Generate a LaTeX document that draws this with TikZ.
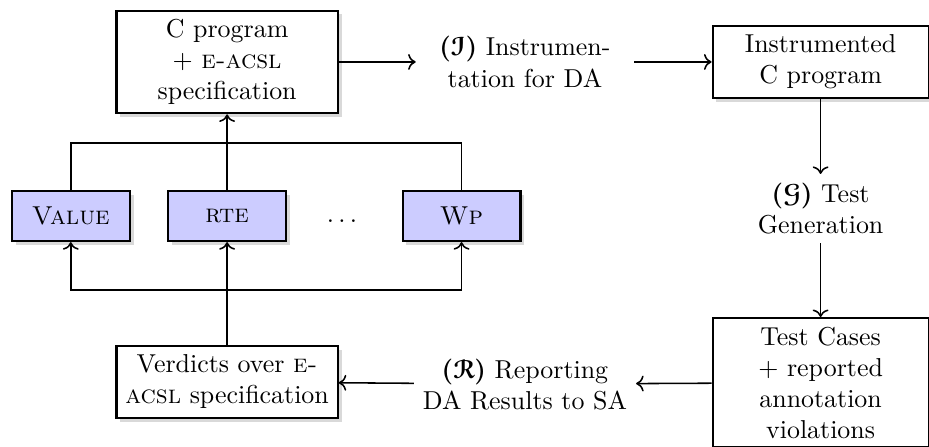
\documentclass[tikz,border=0pt]{standalone}
\usepackage{amsmath, amssymb}
\usepackage[mathscr]{eucal}
\usepackage{tikz}
\usetikzlibrary{shadows, arrows.meta, positioning}

\begin{document}
\begin{tikzpicture}
\tikzstyle{block} = [rectangle, draw=black, thick, fill=white, align=center, minimum width=3cm, drop shadow={opacity=0.3, shadow xshift=1.5pt, shadow yshift=-1.5pt}]
\tikzstyle{plugin} = [rectangle, draw=black, thick, fill=blue!20, minimum width=1.6cm, minimum height=0.68cm, drop shadow={opacity=0.3, shadow xshift=1.5pt, shadow yshift=-1.5pt}]
\tikzstyle{phase} = [rectangle, align=center, minimum width=2.95cm, minimum height=0.9cm]
\useasboundingbox (0,0) rectangle (12.6,6.05);

\node[block, minimum height=1.33cm] (cprog) at (3.08,5.21) {C program\\+ \textsc{e-acsl}\\specification};
\node[phase] (instrument) at (7.12,5.21) {{\boldmath$(\mathscr{I})$} Instrumen-\\tation for DA};
\node[block, minimum width=2.93cm, minimum height=0.95cm] (instrprog) at (11.13,5.21) {Instrumented\\C program};
\node[phase] (testgen) at (11.13,3.22) {{\boldmath$(\mathscr{G})$} Test\\Generation};
\node[block, minimum width=2.93cm, minimum height=1.7cm] (tests) at (11.13,0.86) {Test Cases\\+ reported\\annotation\\violations};
\node[phase] (report) at (7.12,0.84) {{\boldmath$(\mathscr{R})$} Reporting\\DA Results to SA};
\node[block, minimum height=0.94cm] (verdicts) at (3.08,0.87) {Verdicts over \textsc{e-}\\\textsc{acsl} specification};

\node[plugin] (value) at (0.96,3.12) {\textsc{Value}};
\node[plugin] (rte) at (3.08,3.12) {\textsc{rte}};
\node (dots) at (4.64,3.05) {$\ldots$};
\node[plugin] (wp) at (6.26,3.12) {\textsc{Wp}};

\coordinate (topbus) at (3.08,4.11);
\coordinate (bottombus) at (3.08,2.12);

\draw[->, semithick] (cprog) -- (instrument);
\draw[->, semithick] (instrument) -- (instrprog);
\draw[->, semithick] (instrprog) -- (testgen);
\draw[->, semithick] (testgen) -- (tests);
\draw[->, semithick] (tests) -- (report);
\draw[->, semithick] (report) -- (verdicts);

\draw[->, semithick] (verdicts) -- (rte);
\draw[->, semithick] (bottombus) -| (value);
\draw[->, semithick] (bottombus) -| (wp);
\draw[->, semithick] (rte) -- (cprog);
\draw[semithick] (value) |- (topbus) -| (wp);

\end{tikzpicture}
\end{document}
